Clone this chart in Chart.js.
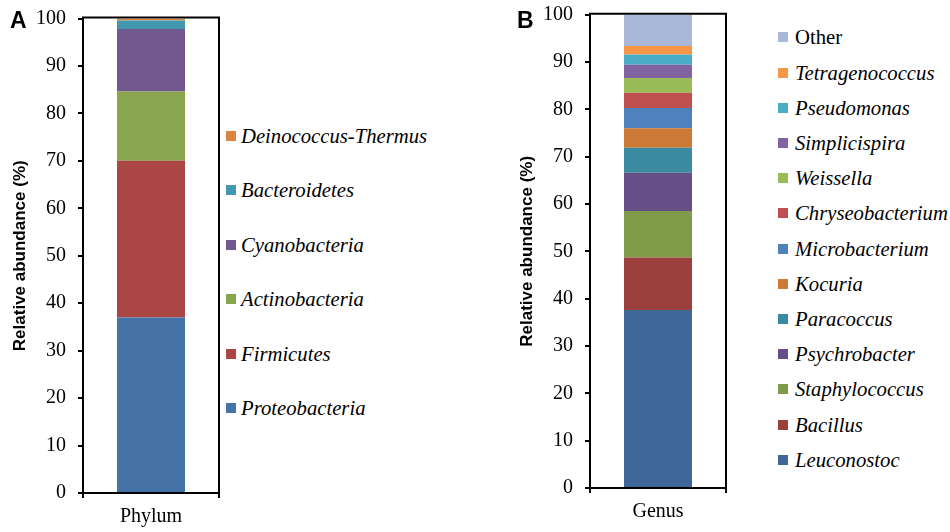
<!DOCTYPE html>
<html><head><meta charset="utf-8">
<script src="https://cdn.jsdelivr.net/npm/chart.js@4/dist/chart.umd.min.js"></script>
<style>
body{margin:0;width:950px;height:532px;background:#fff;position:relative;overflow:hidden;}
canvas{position:absolute;top:0;}
.panel{position:absolute;font-family:"Liberation Sans";font-weight:bold;font-size:23px;line-height:1;color:#000;}
.leg{position:absolute;left:0;top:0;font-family:"Liberation Serif","Times New Roman",serif;font-size:20.7px;color:#000;}
.item{position:absolute;display:flex;align-items:center;white-space:nowrap;height:24px;line-height:24px;}
.sw{width:10px;height:10px;flex:none;}
</style></head>
<body>
<canvas id="cA" width="226" height="532" style="left:0px"></canvas>
<canvas id="cB" width="226" height="532" style="left:507px"></canvas>
<div class="panel" style="left:10px;top:9px">A</div>
<div class="panel" style="left:517px;top:9px">B</div>
<div id="legA" class="leg"></div>
<div id="legB" class="leg"></div>
<script>
const yTicks = [0,10,20,30,40,50,60,70,80,90,100];

const phylumCategory = ['Phylum'];
const phylumNames = ['Proteobacteria','Firmicutes','Actinobacteria','Cyanobacteria','Bacteroidetes','Deinococcus-Thermus'];
const phylumValues = [37.0, 33.0, 14.6, 13.2, 1.8, 0.4];
const phylumColors = ['#4572A7','#AA4643','#89A54E','#71588F','#4198AF','#DB843D'];

const genusCategory = ['Genus'];
const genusNames = ['Leuconostoc','Bacillus','Staphylococcus','Psychrobacter','Paracoccus','Kocuria','Microbacterium','Chryseobacterium','Weissella','Simplicispira','Pseudomonas','Tetragenococcus','Other'];
const genusValues = [37.6, 11.1, 9.8, 8.1, 5.3, 4.1, 4.3, 3.2, 3.1, 2.8, 2.2, 1.8, 6.6];
const genusColors = ['#3F6899','#9C403E','#7F9B4A','#664F86','#3A8BA0','#CC7A35','#4F81BD','#C0504D','#9BBB59','#8064A2','#4BACC6','#F79646','#AAB9D9'];

const yTitle = 'Relative abundance (%)';
const serif = "'Liberation Serif', 'Times New Roman', serif";

const framePlugin = {
  id:'frame',
  afterDraw(chart){
    const {ctx, chartArea:a} = chart;
    ctx.save();
    ctx.strokeStyle='#000';
    ctx.lineWidth=2;
    ctx.beginPath();
    ctx.moveTo(a.left-1, a.top-1);
    ctx.lineTo(a.right, a.top-1);
    ctx.lineTo(a.right, a.bottom);
    ctx.stroke();
    ctx.restore();
  }
};

function makeChart(id, cats, names, values, colors, padTop, xH){
  return new Chart(document.getElementById(id), {
    type:'bar',
    data:{
      labels:cats,
      datasets:names.map((n,i)=>({label:n,data:[values[i]],backgroundColor:colors[i],borderWidth:0,barPercentage:0.5,categoryPercentage:1}))
    },
    options:{
      responsive:false, animation:false,
      layout:{padding:{top:padTop,right:7,left:0,bottom:0}},
      plugins:{legend:{display:false},tooltip:{enabled:false}},
      scales:{
        x:{
          stacked:true,
          grid:{drawOnChartArea:false,tickLength:5,color:'#000',lineWidth:2},
          border:{color:'#000',width:2},
          ticks:{color:'#000',font:{family:serif,size:20},padding:7},
          afterFit:s=>{s.height=xH;}
        },
        y:{
          stacked:true,min:0,max:100,
          afterBuildTicks:s=>{s.ticks=yTicks.map(v=>({value:v}));},
          grid:{drawOnChartArea:false,tickLength:5,color:'#000',lineWidth:2},
          border:{color:'#000',width:2},
          ticks:{color:'#000',font:{family:serif,size:20},padding:12},
          title:{display:true,text:yTitle,color:'#000',font:{family:'Liberation Sans',size:17,weight:'bold'},padding:{top:10,bottom:0}},
          afterFit:s=>{s.width=83;s.paddingTop=8;s.paddingBottom=8;}
        }
      }
    },
    plugins:[framePlugin]
  });
}

makeChart('cA', phylumCategory, phylumNames, phylumValues, phylumColors, 18.5, 39);
makeChart('cB', genusCategory, genusNames, genusValues, genusColors, 14.7, 44);

function buildLegend(elId, names, colors, left, firstCenter, step, gap){
  const el = document.getElementById(elId);
  const order = names.map((n,i)=>i).reverse();
  order.forEach((idx,k)=>{
    const it = document.createElement('div');
    it.className='item';
    it.style.left = left+'px';
    it.style.top = (firstCenter + k*step - 12)+'px';
    const sw = document.createElement('span');
    sw.className='sw';
    sw.style.background = colors[idx];
    sw.style.marginRight = gap+'px';
    const tx = document.createElement('span');
    tx.textContent = names[idx];
    tx.style.fontStyle = names[idx]==='Other' ? 'normal' : 'italic';
    it.appendChild(sw); it.appendChild(tx);
    el.appendChild(it);
  });
}
buildLegend('legA', phylumNames, phylumColors, 226, 136, 54.4, 5);
buildLegend('legB', genusNames, genusColors, 778, 37.3, 35.2, 7);
</script>
</body></html>
